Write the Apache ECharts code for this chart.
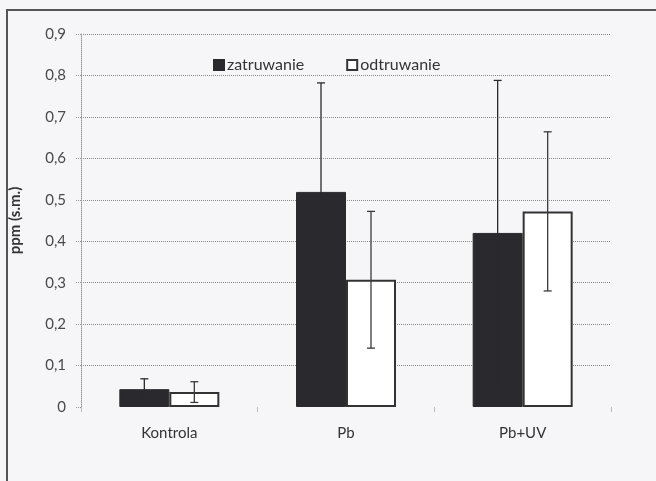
<!DOCTYPE html>
<html>
<head>
<meta charset="utf-8">
<script src="https://cdn.jsdelivr.net/npm/echarts@6/dist/echarts.min.js"></script>
<style>
  html, body { margin: 0; padding: 0; background: #f6f6f8; }
  #chart { width: 656px; height: 481px; }
</style>
</head>
<body>
<div id="chart"></div>
<script>
// Lead content (ppm, dry mass) per group, mean and standard deviation
const categories = ['Kontrola', 'Pb', 'Pb+UV'];
const zatruwanie = [0.043, 0.519, 0.420];
const zatruwanieErr = [0.025, 0.263, 0.368];
const odtruwanie = [0.036, 0.307, 0.472];
const odtruwanieErr = [0.025, 0.165, 0.192];

const FONT = 'Lato, "Open Sans", sans-serif';
const BAR_W = 50;
const DARK = '#2a2a2e';

const chart = echarts.init(document.getElementById('chart'), null, { renderer: 'canvas' });

// Whisker with caps, shifted sideways onto its own bar in the pair
function errorRenderer(shift, color) {
  return function (params, api) {
    const c = api.value(0), v = api.value(1), e = api.value(2);
    const hi = api.coord([c, v + e]);
    const lo = api.coord([c, v - e]);
    const x = hi[0] + shift;
    const cap = 4;
    const style = { stroke: color, lineWidth: 1.3 };
    return {
      type: 'group',
      children: [
        { type: 'line', shape: { x1: x, y1: hi[1], x2: x, y2: lo[1] }, style },
        { type: 'line', shape: { x1: x - cap, y1: hi[1], x2: x + cap, y2: hi[1] }, style },
        { type: 'line', shape: { x1: x - cap, y1: lo[1], x2: x + cap, y2: lo[1] }, style }
      ]
    };
  };
}

chart.setOption({
  backgroundColor: '#f6f6f8',
  animation: false,
  textStyle: { fontFamily: FONT },
  graphic: [{
    type: 'rect',
    shape: { x: 7, y: 10, width: 700, height: 520 },
    style: { fill: 'transparent', stroke: '#555', lineWidth: 2 },
    silent: true,
    z: 100
  }],
  legend: {
    left: 208,
    top: 52,
    itemWidth: 10,
    itemHeight: 10,
    itemGap: 42,
    icon: 'rect',
    textStyle: { fontFamily: FONT, fontSize: 16, color: '#333', padding: [0, 0, 0, -2] },
    data: ['zatruwanie', 'odtruwanie']
  },
  grid: { left: 78, right: 45, top: 34, bottom: 74, containLabel: false },
  xAxis: {
    type: 'category',
    data: categories,
    axisLine: { show: false },
    axisTick: { show: true, length: 5, lineStyle: { color: '#bbb' } },
    axisLabel: { fontFamily: FONT, fontSize: 15, color: '#333', margin: 19 }
  },
  yAxis: {
    type: 'value',
    min: 0,
    max: 0.9,
    interval: 0.1,
    name: 'ppm (s.m.)',
    nameLocation: 'middle',
    nameGap: 58,
    nameTextStyle: { fontFamily: FONT, fontSize: 15, fontWeight: 'bold', color: '#333' },
    axisLine: { show: true, lineStyle: { color: '#999', type: 'dotted', width: 1 } },
    axisTick: { show: true, length: 5, lineStyle: { color: '#999', type: 'dotted' } },
    axisLabel: {
      fontFamily: FONT, fontSize: 15, color: '#4a4a4a', margin: 15,
      formatter: v => (v === 0 ? '0' : v.toFixed(1).replace('.', ','))
    },
    splitLine: { show: true, showMinLine: false, lineStyle: { color: '#888', type: 'dotted', width: 1 } }
  },
  series: [
    {
      name: 'zatruwanie',
      type: 'bar',
      barWidth: BAR_W,
      barGap: '0%',
      data: zatruwanie,
      itemStyle: { color: DARK, borderColor: DARK, borderWidth: 1 }
    },
    {
      name: 'odtruwanie',
      type: 'bar',
      barWidth: BAR_W,
      barGap: '0%',
      data: odtruwanie,
      itemStyle: { color: '#ffffff', borderColor: '#333', borderWidth: 2 }
    },
    {
      type: 'custom',
      name: 'zatruwanie SD',
      renderItem: errorRenderer(-BAR_W / 2, DARK),
      data: zatruwanie.map((v, i) => [i, v, zatruwanieErr[i]]),
      encode: { x: 0, y: [1] },
      z: 5,
      silent: true
    },
    {
      type: 'custom',
      name: 'odtruwanie SD',
      renderItem: errorRenderer(BAR_W / 2, '#3a3a3a'),
      data: odtruwanie.map((v, i) => [i, v, odtruwanieErr[i]]),
      encode: { x: 0, y: [1] },
      z: 5,
      silent: true
    }
  ]
});
</script>
</body>
</html>
